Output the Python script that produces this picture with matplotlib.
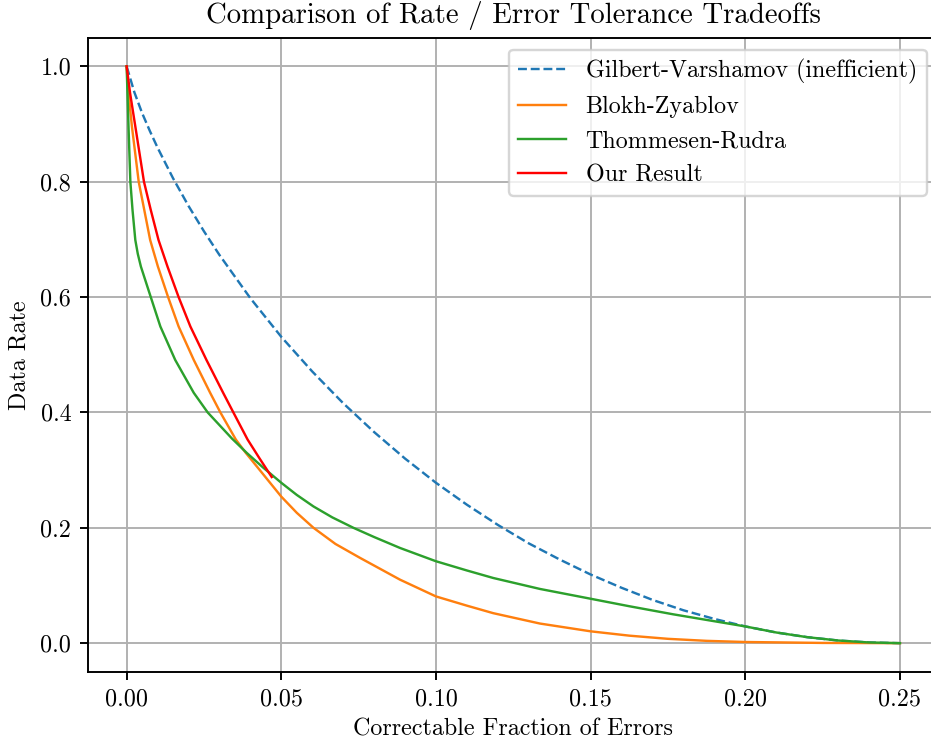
import matplotlib
matplotlib.use("Agg")
import matplotlib.pyplot as plt

plt.rcParams['font.family'] = ['cmr10', 'DejaVu Serif']
plt.rcParams['mathtext.fontset'] = 'cm'
plt.rcParams['axes.formatter.use_mathtext'] = True
plt.rcParams['font.size'] = 10

# Gilbert-Varshamov (inefficient)
gv_x = [0, 0.0025, 0.005, 0.0075, 0.01, 0.015, 0.02, 0.025, 0.03, 0.04, 0.05, 0.06, 0.07,
        0.08, 0.09, 0.10, 0.11, 0.12, 0.13, 0.14, 0.15, 0.16, 0.17, 0.18, 0.19, 0.20,
        0.21, 0.22, 0.23, 0.24, 0.25]
gv_y = [1.0, 0.955, 0.919, 0.888, 0.859, 0.806, 0.758, 0.714, 0.673, 0.598, 0.531, 0.471, 0.416,
        0.366, 0.320, 0.278, 0.240, 0.205, 0.173, 0.145, 0.119, 0.096, 0.075, 0.057, 0.042, 0.029,
        0.0185, 0.0104, 0.0046, 0.0012, 0.0]

# Blokh-Zyablov
bz_x = [0, 0.0006, 0.0017, 0.0039, 0.0057, 0.0076, 0.0101, 0.0134, 0.0168, 0.0217, 0.0270,
        0.0303, 0.0353, 0.0385, 0.0435, 0.05, 0.055, 0.0604, 0.0675, 0.0754, 0.0884, 0.10,
        0.11, 0.1185, 0.1336, 0.15, 0.1625, 0.175, 0.1875, 0.20, 0.225, 0.25]
bz_y = [1.0, 0.954, 0.896, 0.80, 0.751, 0.699, 0.653, 0.60, 0.549, 0.491, 0.434,
        0.40, 0.353, 0.33, 0.297, 0.254, 0.226, 0.20, 0.172, 0.148, 0.110, 0.081,
        0.065, 0.052, 0.034, 0.0205, 0.013, 0.0075, 0.004, 0.002, 0.0004, 0.0]

# Thommesen-Rudra
tr_x = [0, 0.0006, 0.0012, 0.0019, 0.0028, 0.0036, 0.0046, 0.0078, 0.0109, 0.0157, 0.0217,
        0.0262, 0.0340, 0.0388, 0.044, 0.05, 0.055, 0.0604, 0.0665, 0.0733, 0.08, 0.0884,
        0.10, 0.11, 0.1185, 0.1336, 0.15, 0.1625, 0.1767, 0.19, 0.20, 0.21, 0.22, 0.23,
        0.24, 0.25]
tr_y = [1.0, 0.896, 0.80, 0.751, 0.699, 0.675, 0.653, 0.60, 0.549, 0.491, 0.434,
        0.40, 0.355, 0.33, 0.305, 0.278, 0.257, 0.237, 0.218, 0.20, 0.184, 0.165,
        0.142, 0.126, 0.113, 0.094, 0.077, 0.064, 0.050, 0.038, 0.029, 0.0185, 0.0104, 0.0046,
        0.0012, 0.0]

# Our Result
our_x = [0, 0.0011, 0.0028, 0.0056, 0.0078, 0.0103, 0.0132, 0.0168, 0.0206, 0.0258, 0.0312,
         0.0345, 0.0391, 0.043, 0.0469]
our_y = [1.0, 0.954, 0.896, 0.80, 0.751, 0.699, 0.653, 0.60, 0.549, 0.491, 0.434,
         0.40, 0.353, 0.32, 0.288]

labels = ['Gilbert-Varshamov (inefficient)', 'Blokh-Zyablov', 'Thommesen-Rudra', 'Our Result']

dpi = 173
fig = plt.figure(figsize=(931 / dpi, 740 / dpi), dpi=dpi)
ax = fig.add_axes([0.0945, 0.0919, 0.9137, 0.8574])

ax.plot(gv_x, gv_y, '--', color='C0', lw=1, label=labels[0])
ax.plot(bz_x, bz_y, color='C1', lw=1, label=labels[1])
ax.plot(tr_x, tr_y, color='C2', lw=1, label=labels[2])
ax.plot(our_x, our_y, color='red', lw=1, label=labels[3])

ax.set_xlim(-0.0125, 0.2625)
ax.set_ylim(-0.05, 1.05)
ax.set_xticks([0, 0.05, 0.10, 0.15, 0.20, 0.25])
ax.set_xticklabels(['0.00', '0.05', '0.10', '0.15', '0.20', '0.25'])
ax.set_yticks([0, 0.2, 0.4, 0.6, 0.8, 1.0])
ax.set_yticklabels(['0.0', '0.2', '0.4', '0.6', '0.8', '1.0'])
ax.grid(True)
ax.set_xlabel('Correctable Fraction of Errors', labelpad=3)
ax.set_ylabel('Data Rate')
ax.set_title('Comparison of Rate / Error Tolerance Tradeoffs', fontsize=12)
ax.legend(loc='upper right')

fig.savefig('out.png', dpi=dpi)
